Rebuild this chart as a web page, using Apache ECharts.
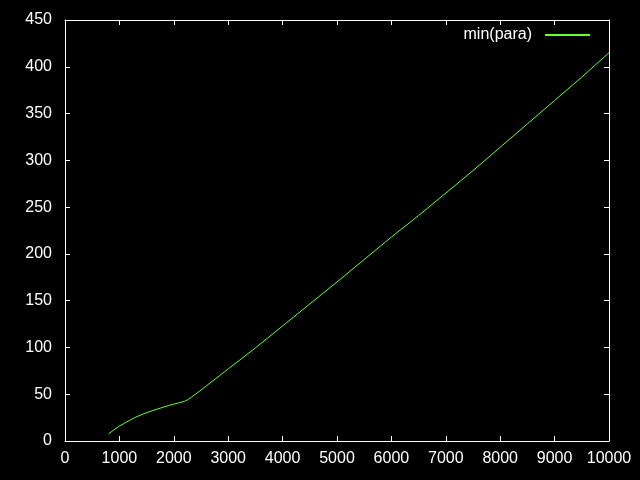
<!DOCTYPE html>
<html><head><meta charset="utf-8">
<script src="https://cdn.jsdelivr.net/npm/echarts@6/dist/echarts.min.js"></script>
<style>html,body{margin:0;padding:0;background:#000;}#c{width:640px;height:480px;}</style>
</head><body><div id="c"></div>
<script>
var seriesName = 'min(para)';
var xValues = [800, 900, 1000, 1100, 1200, 1300, 1400, 1500, 1600, 1700, 1800, 1900, 2000, 2100, 2200, 2270, 2500, 3000, 3500, 4000, 4500, 5000, 5500, 6000, 6500, 7000, 7500, 8000, 8500, 9000, 9500, 10000];
var yValues = [7.5, 12, 16, 19.2, 22.5, 25.5, 28, 30.3, 32.3, 34.2, 36, 37.8, 39.4, 40.9, 42.5, 44.5, 54.5, 77, 99.5, 123, 146.5, 170, 194, 218, 241, 265, 289, 314, 339, 364, 389, 415];
var xTicks = {min: 0, max: 10000, interval: 1000};
var yTicks = {min: 0, max: 450, interval: 50};

var data = xValues.map(function (x, i) { return [x, yValues[i]]; });
var font = 'Liberation Sans, Arial, sans-serif';
var chart = echarts.init(document.getElementById('c'));
var axisCommon = {
  axisLine: {show: true, onZero: false, lineStyle: {color: '#fff', width: 1}},
  axisTick: {show: true, inside: true, length: 5, lineStyle: {color: '#fff'}},
  splitLine: {show: false}
};
function plain(v) { return String(v); }
chart.setOption({
  backgroundColor: '#000',
  animation: false,
  grid: {left: 65, right: 31, top: 20, bottom: 39, containLabel: false},
  legend: {
    right: 45, top: 22, itemWidth: 45, itemHeight: 2, itemGap: 10,
    align: 'right', icon: 'rect',
    textStyle: {color: '#fff', fontSize: 16, fontFamily: font, padding: [0, 8, 0, 0]},
    data: [seriesName]
  },
  xAxis: [
    Object.assign({type: 'value', min: xTicks.min, max: xTicks.max, interval: xTicks.interval, position: 'bottom',
      axisLabel: {color: '#fff', fontSize: 16, fontFamily: font, margin: 10, formatter: plain}}, axisCommon),
    Object.assign({type: 'value', min: xTicks.min, max: xTicks.max, interval: xTicks.interval, position: 'top',
      axisLabel: {show: false}}, axisCommon)
  ],
  yAxis: [
    Object.assign({type: 'value', min: yTicks.min, max: yTicks.max, interval: yTicks.interval, position: 'left',
      axisLabel: {color: '#fff', fontSize: 16, fontFamily: font, margin: 13, formatter: plain}}, axisCommon),
    Object.assign({type: 'value', min: yTicks.min, max: yTicks.max, interval: yTicks.interval, position: 'right',
      axisLabel: {show: false}}, axisCommon)
  ],
  series: [{
    name: seriesName, type: 'line', data: data, showSymbol: false, symbol: 'none',
    lineStyle: {color: '#66ff33', width: 1}, itemStyle: {color: '#66ff33'}
  }]
});
</script></body></html>
